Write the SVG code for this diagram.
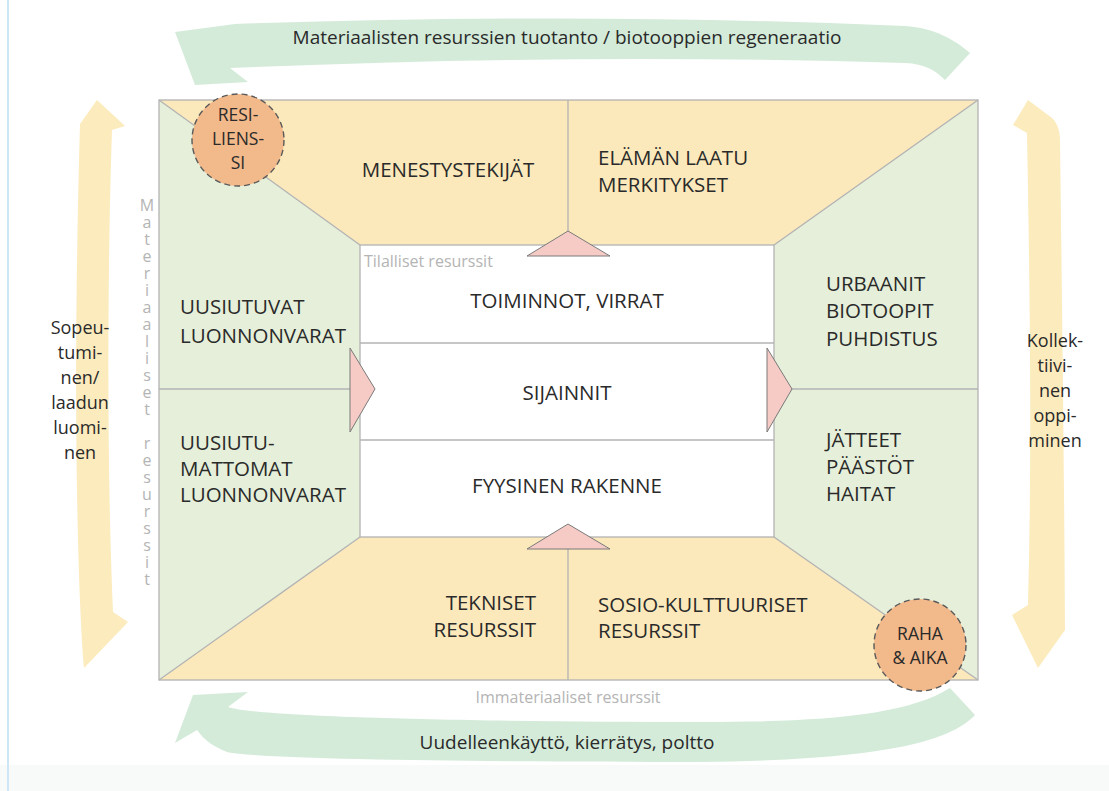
<svg xmlns="http://www.w3.org/2000/svg" width="1109" height="791" viewBox="0 0 1109 791">
  <style>
    .lbl { font-family: "Open Sans", "Noto Sans", "DejaVu Sans", sans-serif; font-size: 20.5px; fill: #2a2a2a; }
    .badge-t { font-family: "Open Sans", "Noto Sans", "DejaVu Sans", sans-serif; font-size: 17.5px; fill: #2a2a2a; text-anchor: middle; }
    .side { font-family: "Open Sans", "Noto Sans", "DejaVu Sans", sans-serif; font-size: 18px; fill: #2a2a2a; text-anchor: middle; }
    .flow { font-family: "Open Sans", "Noto Sans", "DejaVu Sans", sans-serif; font-size: 19px; fill: #2a2a2a; text-anchor: middle; }
    .note { font-family: "Open Sans", "Noto Sans", "DejaVu Sans", sans-serif; font-size: 16px; fill: #b4b4b4; }
    .mid { text-anchor: middle; }
    .end { text-anchor: end; }
    .yellow { fill: #fbe9bc; }
    .green { fill: #e5efd9; }
    .edge { fill: none; stroke: #b3b3b3; stroke-width: 1.3; }
    .tri { fill: #f6cbc6; stroke: #7a7a7a; stroke-width: 1; }
    .badge { fill: #f2b98b; stroke: #5a5a5a; stroke-width: 1.4; stroke-dasharray: 6 4; }
    .bandG { fill: #d4ebd9; }
    .bandY { fill: #fcebbd; }
  </style>

  <!-- page -->
  <rect x="0" y="0" width="1109" height="791" fill="#ffffff"/>
  <rect x="0" y="765" width="1109" height="26" fill="#f7faf8"/>
  <line x1="8" y1="0" x2="8" y2="791" stroke="#cfe6f6" stroke-width="2"/>

  <!-- flow arrows -->
  <g id="connectors">
    <!-- top: production / regeneration, flowing right to left -->
    <path class="bandG" d="M235 24 Q580 12 905 26 C935 28 955 40 970 53 L945 80 C935 70 925 64 905 63 Q580 53 230 68 L248 82 L195 85 L175 32 Z"/>
    <!-- bottom: reuse / recycling, flowing right to left -->
    <path class="bandG" d="M193 695 L248 692 L228 707 C260 718 500 722 700 722 C820 722 905 716 950 688 L975 715 C950 742 880 760 700 762 C500 762 262 760 227 752 C214 747 204 740 197 730 L175 743 Z"/>
    <!-- left: adaptation -->
    <path class="bandY" d="M97 100 L125 126 L112 130 C108 250 106 450 113 612 L128 622 L84 668 C78 600 72 400 80 124 Z"/>
    <!-- right: collective learning -->
    <path class="bandY" d="M1028 100 L1052 118 C1058 124 1060 132 1060 140 C1062 300 1064 450 1065 630 L1038 668 L1012 615 L1028 605 C1032 450 1030 300 1027 133 L1013 125 Z"/>
  </g>

  <!-- panels of the frame -->
  <g id="panel-top">
    <polygon class="yellow" points="159,100 978,100 774,245 360,245"/>
  </g>
  <g id="panel-bottom">
    <polygon class="yellow" points="159,680 978,680 774,537 360,537"/>
  </g>
  <g id="panel-left">
    <polygon class="green" points="159,100 360,245 360,537 159,680"/>
  </g>
  <g id="panel-right">
    <polygon class="green" points="978,100 774,245 774,537 978,680"/>
  </g>
  <g id="center">
    <rect x="360" y="245" width="414" height="292" fill="#ffffff"/>
  </g>

  <!-- frame lines -->
  <g id="frame-lines">
    <rect class="edge" x="159" y="100" width="819" height="580"/>
    <rect class="edge" x="360" y="245" width="414" height="292"/>
    <line class="edge" x1="159" y1="100" x2="360" y2="245"/>
    <line class="edge" x1="978" y1="100" x2="774" y2="245"/>
    <line class="edge" x1="159" y1="680" x2="360" y2="537"/>
    <line class="edge" x1="978" y1="680" x2="774" y2="537"/>
    <line class="edge" x1="568" y1="100" x2="568" y2="245"/>
    <line class="edge" x1="568" y1="537" x2="568" y2="680"/>
    <line class="edge" x1="159" y1="389" x2="360" y2="389"/>
    <line class="edge" x1="774" y1="389" x2="978" y2="389"/>
    <line class="edge" x1="360" y1="343" x2="774" y2="343"/>
    <line class="edge" x1="360" y1="440" x2="774" y2="440"/>
  </g>

  <!-- inward pointers drawn over the frame -->
  <g id="pointers">
    <polygon class="tri" points="568,231 527,256 610,256"/>
    <polygon class="tri" points="568,524 527,549 610,549"/>
    <polygon class="tri" points="350,348 375,389 350,432"/>
    <polygon class="tri" points="767,348 792,389 767,432"/>
  </g>

  <!-- top quadrant labels -->
  <g id="menestystekijat">
    <text class="lbl mid" x="448" y="177">MENESTYSTEKIJÄT</text>
  </g>
  <g id="elaman-laatu">
    <text class="lbl" x="598" y="165">ELÄMÄN LAATU</text>
    <text class="lbl" x="598" y="192">MERKITYKSET</text>
  </g>

  <!-- centre rows -->
  <g id="tilalliset">
    <text class="note" x="364" y="267">Tilalliset resurssit</text>
  </g>
  <g id="toiminnot">
    <text class="lbl mid" x="567" y="308">TOIMINNOT, VIRRAT</text>
  </g>
  <g id="sijainnit">
    <text class="lbl mid" x="567" y="400">SIJAINNIT</text>
  </g>
  <g id="rakenne">
    <text class="lbl mid" x="567" y="493">FYYSINEN RAKENNE</text>
  </g>

  <!-- left quadrant labels -->
  <g id="uusiutuvat">
    <text class="lbl" x="180" y="314">UUSIUTUVAT</text>
    <text class="lbl" x="180" y="343">LUONNONVARAT</text>
  </g>
  <g id="uusiutumattomat">
    <text class="lbl" x="180" y="450">UUSIUTU-</text>
    <text class="lbl" x="180" y="476">MATTOMAT</text>
    <text class="lbl" x="180" y="502">LUONNONVARAT</text>
  </g>

  <!-- right quadrant labels -->
  <g id="urbaanit">
    <text class="lbl" x="826" y="291">URBAANIT</text>
    <text class="lbl" x="826" y="318">BIOTOOPIT</text>
    <text class="lbl" x="826" y="346">PUHDISTUS</text>
  </g>
  <g id="jatteet">
    <text class="lbl" x="826" y="447">JÄTTEET</text>
    <text class="lbl" x="826" y="474">PÄÄSTÖT</text>
    <text class="lbl" x="826" y="501">HAITAT</text>
  </g>

  <!-- bottom quadrant labels -->
  <g id="tekniset">
    <text class="lbl end" x="536" y="610">TEKNISET</text>
    <text class="lbl end" x="536" y="637">RESURSSIT</text>
  </g>
  <g id="sosio">
    <text class="lbl" x="598" y="612">SOSIO-KULTTUURISET</text>
    <text class="lbl" x="598" y="638">RESURSSIT</text>
  </g>

  <!-- badges -->
  <g id="resilienssi">
    <circle class="badge" cx="238" cy="140" r="46"/>
    <text class="badge-t" x="238" y="121">RESI-</text>
    <text class="badge-t" x="238" y="145">LIENS-</text>
    <text class="badge-t" x="238" y="169">SI</text>
  </g>
  <g id="raha-aika">
    <circle class="badge" cx="920" cy="645" r="46"/>
    <text class="badge-t" x="920" y="640">RAHA</text>
    <text class="badge-t" x="920" y="664">&amp; AIKA</text>
  </g>

  <!-- side captions -->
  <g id="materiaaliset">
    <text class="note mid" font-size="15" x="147 147 147 147 147 147 147 147 147 147 147 147 147 147 147 147 147 147 147 147 147 147 147" y="211 228 245 262 279 296 313 330 347 364 381 398 415 432 449 466 483 500 517 534 551 568 585">Materiaaliset resurssit</text>
  </g>
  <g id="immateriaaliset">
    <text class="note mid" x="568" y="703">Immateriaaliset resurssit</text>
  </g>

  <!-- flow captions -->
  <g id="tuotanto">
    <text class="flow" x="567" y="44">Materiaalisten resurssien tuotanto / biotooppien regeneraatio</text>
  </g>
  <g id="kierratys">
    <text class="flow" x="567" y="749">Uudelleenkäyttö, kierrätys, poltto</text>
  </g>
  <g id="sopeutuminen">
    <text class="side" x="80" y="334">Sopeu-</text>
    <text class="side" x="80" y="359">tumi-</text>
    <text class="side" x="80" y="384">nen/</text>
    <text class="side" x="80" y="409">laadun</text>
    <text class="side" x="80" y="434">luomi-</text>
    <text class="side" x="80" y="459">nen</text>
  </g>
  <g id="oppiminen">
    <text class="side" x="1055" y="347">Kollek-</text>
    <text class="side" x="1055" y="372">tiivi-</text>
    <text class="side" x="1055" y="397">nen</text>
    <text class="side" x="1055" y="422">oppi-</text>
    <text class="side" x="1055" y="447">minen</text>
  </g>
</svg>
